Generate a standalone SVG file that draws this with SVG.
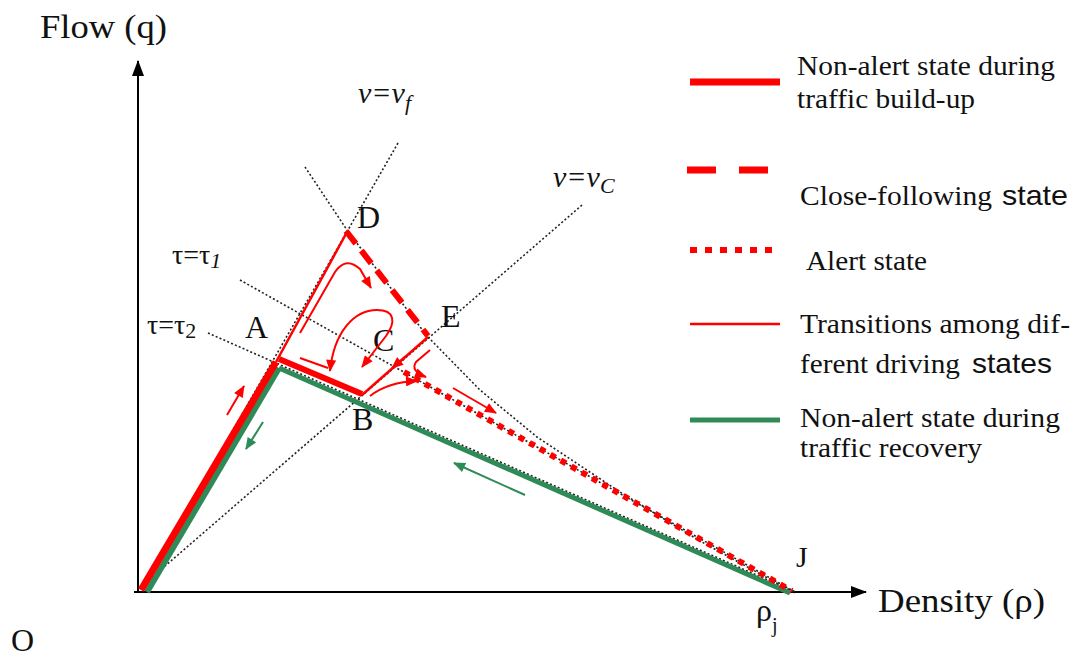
<svg xmlns="http://www.w3.org/2000/svg" width="1075" height="657" viewBox="0 0 1075 657">
<style>
.t{font-family:"Liberation Serif","Times New Roman",serif;fill:#111}
.s{font-family:"Liberation Sans",Arial,sans-serif;fill:#111}
.dot{fill:none;stroke:#222;stroke-width:1.6;stroke-dasharray:2,2.2}
.red{fill:none;stroke:#ff0000}
.grn{fill:none;stroke:#2e8b57}
</style>
<defs>
<marker id="ar" viewBox="0 0 12 10" refX="11" refY="5" markerWidth="13" markerHeight="10" orient="auto-start-reverse" markerUnits="userSpaceOnUse"><path d="M0,0 L12,5 L0,10 z" fill="#ff0000"/></marker>
<marker id="ag" viewBox="0 0 12 10" refX="11" refY="5" markerWidth="13" markerHeight="10" orient="auto" markerUnits="userSpaceOnUse"><path d="M0,0 L12,5 L0,10 z" fill="#2e8b57"/></marker>
<marker id="ak" viewBox="0 0 16 12" refX="15" refY="6" markerWidth="16" markerHeight="12" orient="auto" markerUnits="userSpaceOnUse"><path d="M0,0 L16,6 L0,12 z" fill="#000"/></marker>
</defs>
<rect width="1075" height="657" fill="#fff"/>

<g id="axes">
<line x1="138" y1="593" x2="138" y2="61" stroke="#000" stroke-width="2" marker-end="url(#ak)"/>
<line x1="134" y1="592" x2="866" y2="592" stroke="#000" stroke-width="2" marker-end="url(#ak)"/>
<text class="t" x="40" y="38" font-size="34" textLength="127" lengthAdjust="spacingAndGlyphs">Flow (q)</text>
<text class="t" x="878" y="612" font-size="34" textLength="167" lengthAdjust="spacingAndGlyphs">Density (ρ)</text>
<text class="t" x="11" y="651" font-size="32">O</text>
<text class="t" x="756" y="621" font-size="32">ρ<tspan font-size="20" dy="11">j</tspan></text>
</g>

<g id="guides">
<polyline class="dot" points="305,167 347,230 427,336 480,390 537,437 620,492 700,541 795,593"/>
<line class="dot" x1="398" y1="143" x2="141" y2="590"/>
<line class="dot" x1="582" y1="205" x2="149" y2="580"/>
<line class="dot" x1="240" y1="280" x2="795" y2="592"/>
<line class="dot" x1="208" y1="333" x2="795" y2="592"/>
<text class="t" x="358" y="103" font-size="30" font-style="italic">v=v<tspan font-size="22" dy="7">f</tspan></text>
<text class="t" x="553" y="187" font-size="30" font-style="italic">v=v<tspan font-size="22" dy="6">C</tspan></text>
<text class="t" x="172" y="264" font-size="28">τ=τ<tspan font-size="22" dy="4" font-style="italic">1</tspan></text>
<text class="t" x="147" y="334" font-size="28">τ=τ<tspan font-size="22" dy="4">2</tspan></text>
</g>

<g id="states">
<line class="grn" x1="147" y1="592" x2="279" y2="368" stroke-width="6"/>
<polyline class="grn" points="279,368 790,593" stroke-width="5"/>
<line class="red" x1="141" y1="590" x2="276" y2="362" stroke-width="7"/>
<line class="red" x1="279" y1="359" x2="362" y2="394" stroke-width="6"/>
<line class="red" x1="276" y1="362" x2="347" y2="232" stroke-width="2.5"/>
<line class="red" x1="346" y1="231" x2="428" y2="336" stroke-width="6" stroke-dasharray="16,9"/>
<line class="red" x1="428" y1="337" x2="362" y2="395" stroke-width="2.5"/>
<line class="red" x1="404" y1="372" x2="792" y2="591" stroke-width="6" stroke-dasharray="6,6"/>
</g>

<g id="labels">
<text class="t" x="245" y="338" font-size="32">A</text>
<text class="t" x="357" y="228" font-size="32">D</text>
<text class="t" x="441" y="327" font-size="32">E</text>
<text class="t" x="373" y="351" font-size="32">C</text>
<text class="t" x="352" y="430" font-size="32">B</text>
<text class="t" x="796" y="567" font-size="30">J</text>
</g>

<g id="connectors">
<path class="red" stroke-width="2" d="M227,415 L244,386" marker-end="url(#ar)"/>
<path class="grn" stroke-width="2" d="M263,422 L246,449" marker-end="url(#ag)"/>
<path class="grn" stroke-width="2" d="M525,495 L454,463" marker-end="url(#ag)"/>
<path class="red" stroke-width="2" d="M453,388 L496,413" marker-end="url(#ar)"/>
<path class="red" stroke-width="2" d="M300,333 L335,272 Q346,256 360,269 L371,288" marker-end="url(#ar)"/>
<path class="red" stroke-width="2" d="M330,371 C334,332 354,310 377,310 C395,310 396,322 386,336 L362,367" marker-start="url(#ar)" marker-end="url(#ar)"/>
<path class="red" stroke-width="2" d="M300,358 L328,368"/>
<path class="red" stroke-width="2" d="M406,356 L392,368" marker-end="url(#ar)"/>
<path class="red" stroke-width="2" d="M370,396 Q388,382 417,381" marker-end="url(#ar)"/>
<path class="red" stroke-width="2" d="M430,350 L416,362 Q410,371 426,377" marker-end="url(#ar)"/>
</g>

<g id="legend">
<line class="red" x1="690" y1="82" x2="780" y2="82" stroke-width="7"/>
<text class="t" x="797" y="75" font-size="27" textLength="258" lengthAdjust="spacingAndGlyphs">Non-alert state during</text>
<text class="t" x="797" y="108" font-size="27" textLength="178" lengthAdjust="spacingAndGlyphs">traffic build-up</text>
<line class="red" x1="687" y1="170" x2="768" y2="170" stroke-width="7" stroke-dasharray="29,23"/>
<text class="t" x="800" y="205" font-size="27" textLength="192" lengthAdjust="spacingAndGlyphs">Close-following</text>
<text class="s" x="1002" y="205" font-size="28" textLength="66" lengthAdjust="spacingAndGlyphs">state</text>
<line class="red" x1="690" y1="250" x2="780" y2="250" stroke-width="6" stroke-dasharray="7,8"/>
<text class="t" x="806" y="270" font-size="27" textLength="121" lengthAdjust="spacingAndGlyphs">Alert state</text>
<line class="red" x1="690" y1="324" x2="780" y2="324" stroke-width="2.5"/>
<text class="t" x="800" y="333" font-size="27" textLength="270" lengthAdjust="spacingAndGlyphs">Transitions among dif-</text>
<text class="t" x="800" y="373" font-size="27" textLength="160" lengthAdjust="spacingAndGlyphs">ferent driving</text>
<text class="s" x="972" y="373" font-size="28" textLength="80" lengthAdjust="spacingAndGlyphs">states</text>
<line class="grn" x1="690" y1="420" x2="780" y2="420" stroke-width="5"/>
<text class="t" x="800" y="427" font-size="27" textLength="260" lengthAdjust="spacingAndGlyphs">Non-alert state during</text>
<text class="t" x="800" y="457" font-size="27" textLength="182" lengthAdjust="spacingAndGlyphs">traffic recovery</text>
</g>
</svg>
